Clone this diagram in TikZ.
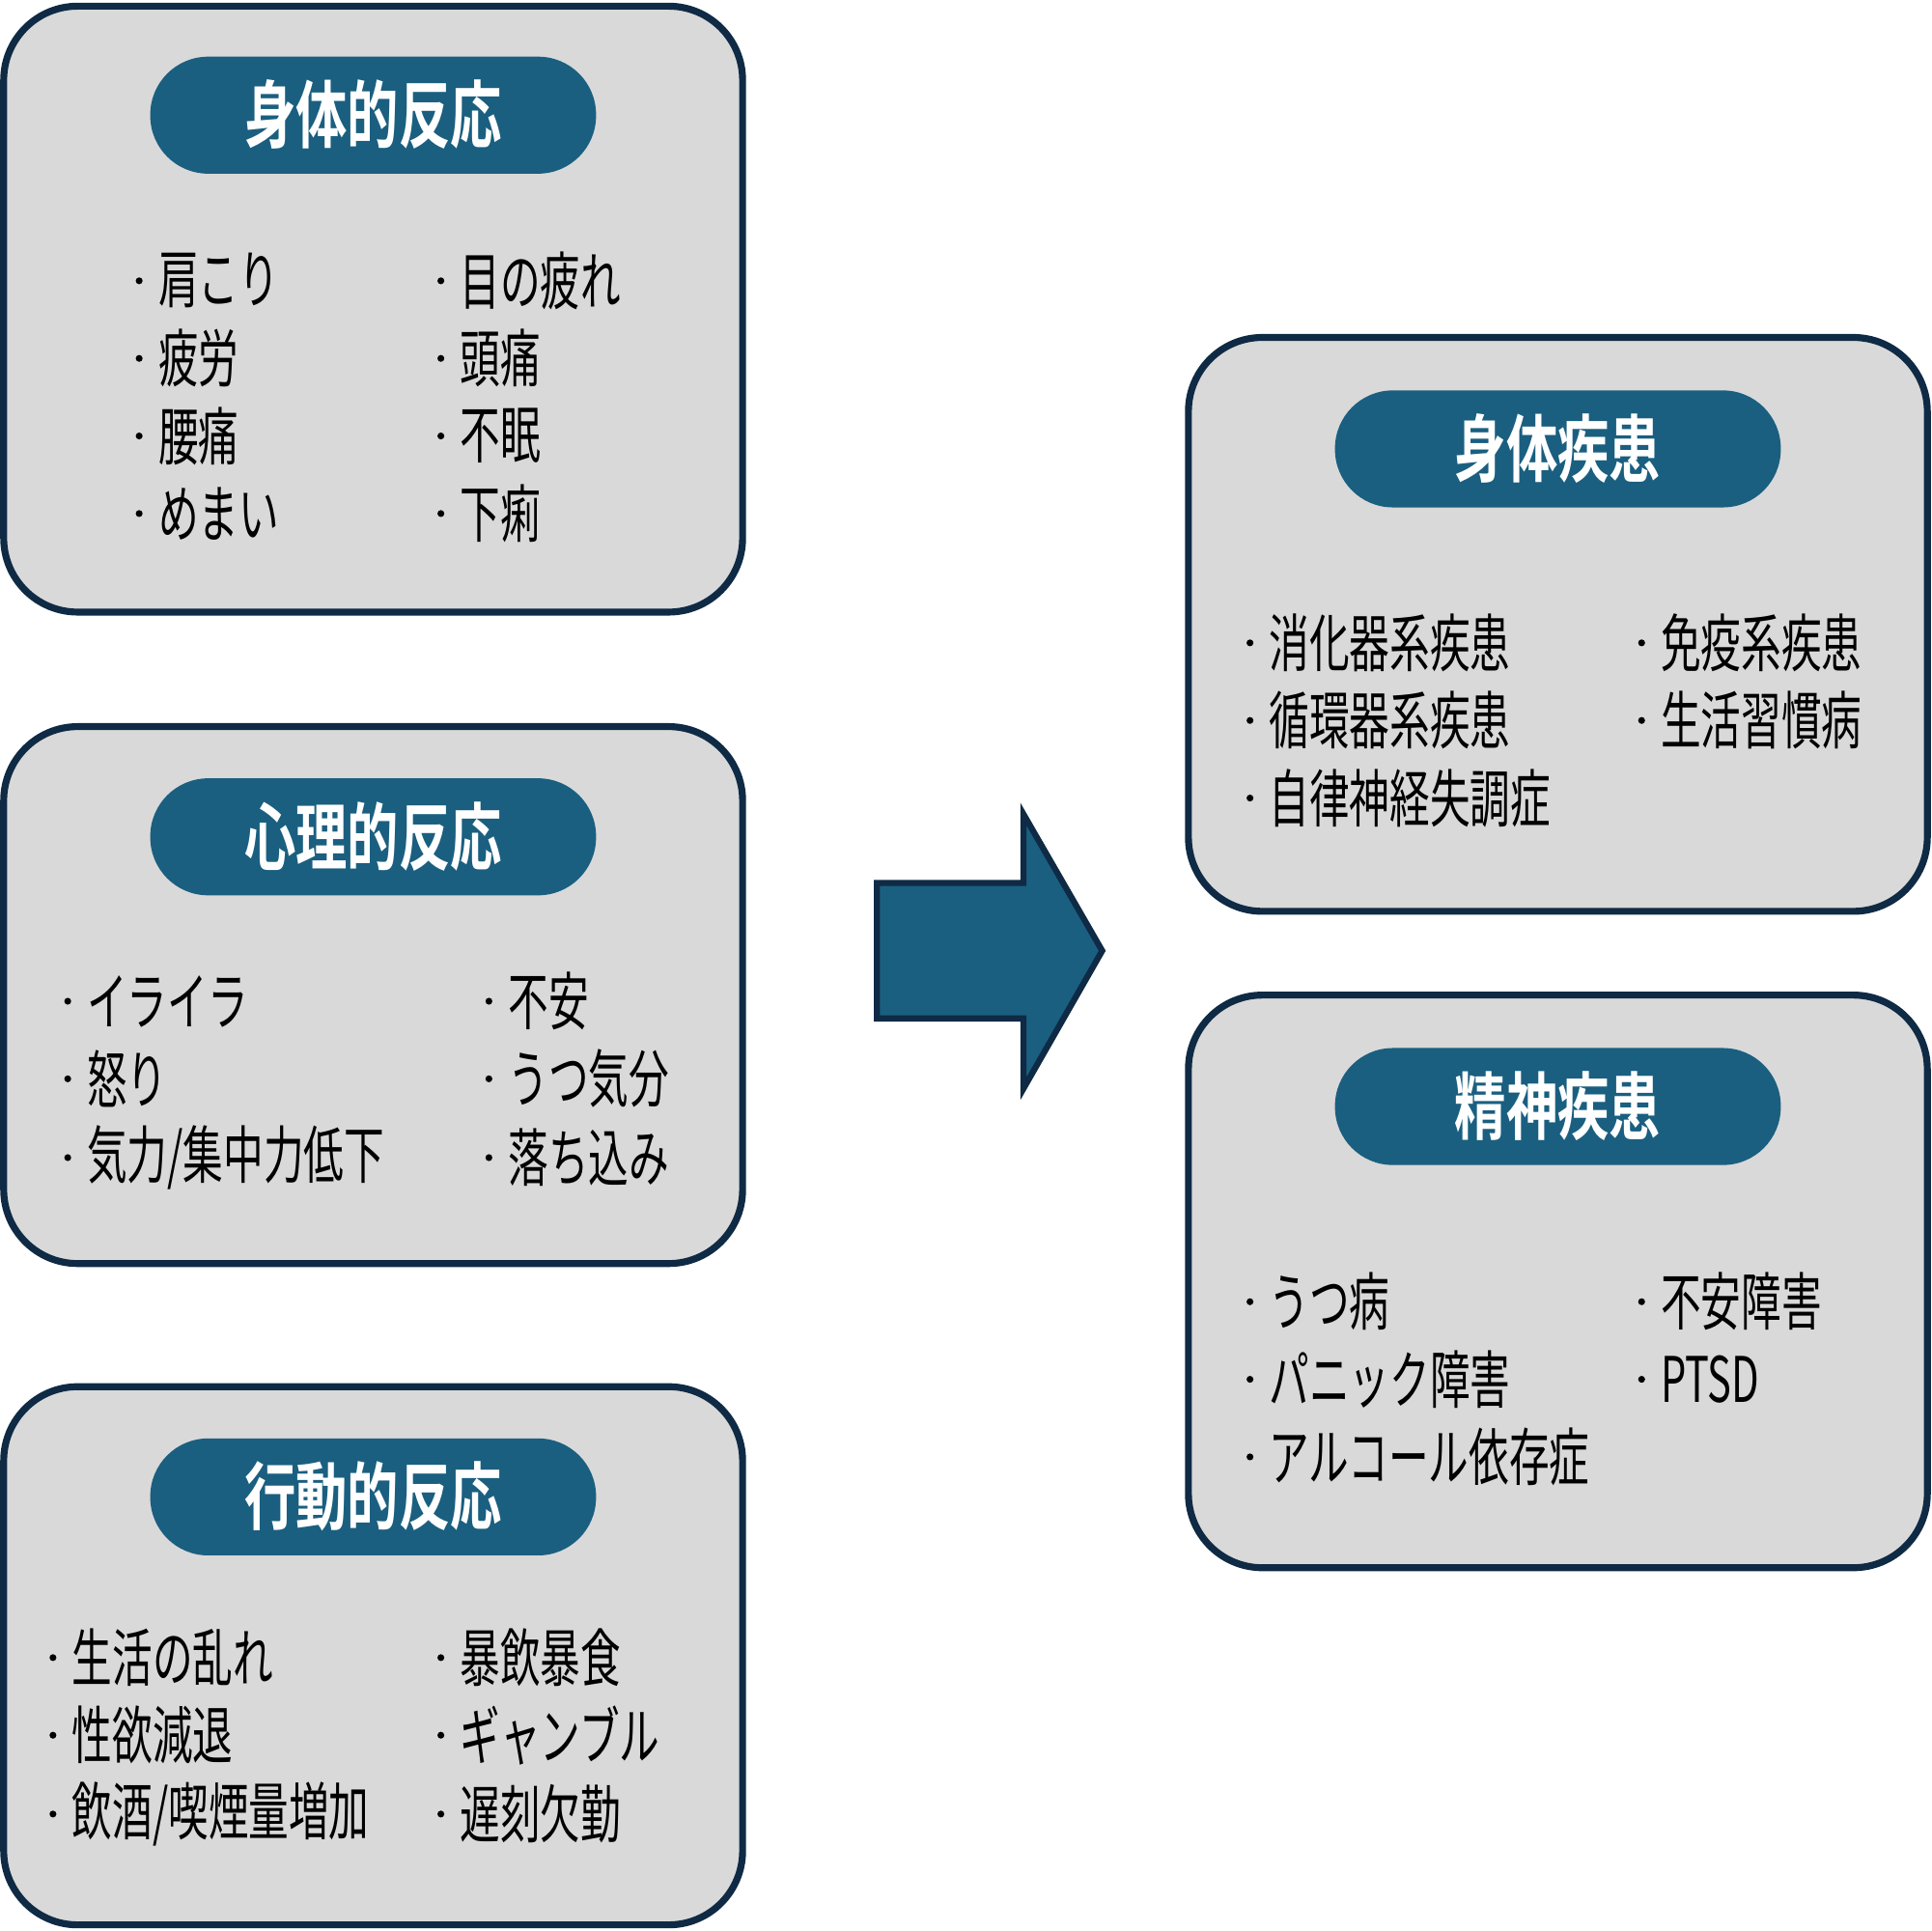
\documentclass[tikz,border=0pt]{standalone}
\usepackage{fontspec}
\newfontfamily\cjk{Noto Sans CJK JP}[BoldFont={Noto Sans CJK JP Bold}]
\usetikzlibrary{positioning}
\definecolor{boxgray}{HTML}{D9D9D9}
\definecolor{navy}{HTML}{0F2A44}
\definecolor{teal}{HTML}{1A5F80}
\tikzset{panel/.style={draw=navy, line width=1.6pt, fill=boxgray, rounded corners=0.6cm}}
\tikzset{entry/.style={anchor=west, inner sep=0pt, font=\cjk\fontsize{14.5}{17}\selectfont}}
\newcommand{\pnl}[4]{% name, x1, y1, x2/y2
  \draw[panel] (#2,#3) rectangle #4;}
\newcommand{\ttl}[4]{% name, x, y1, text
  \fill[teal, rounded corners=0.47cm] (#2-181,#3) rectangle (#2+181,#3+95);
  \node[text=white, font=\cjk\bfseries\fontsize{17}{20}\selectfont] (#1) at (#2,#3+47) {\scalebox{0.7}[1]{#4}};}
\newcommand{\itm}[4]{% name, x, y, text
  \fill (#2,#3) circle (2.8);
  \node[entry] (#1) at (#2+15,#3) {\scalebox{0.64}[1]{#4}};}
\begin{document}
\begin{tikzpicture}[x=0.01cm, y=-0.01cm]
\useasboundingbox (0,0) rectangle (1568,1568);
% left panels
\pnl{p1}{3}{5}{(603,497)}
\pnl{p2}{3}{590}{(603,1026)}
\pnl{p3}{3}{1126}{(603,1563)}
% right panels
\pnl{q1}{965}{274}{(1565,740)}
\pnl{q2}{965}{808}{(1565,1273)}
% titles
\ttl{t1}{303}{46}{身体的反応}
\ttl{t2}{303}{632}{心理的反応}
\ttl{t3}{303}{1168}{行動的反応}
\ttl{u1}{1265}{317}{身体疾患}
\ttl{u2}{1265}{851}{精神疾患}
% items
\foreach \n/\x/\y/\t in {a1/113/228/肩こり, a2/113/291/疲労, a3/113/354/腰痛, a4/113/417/めまい,
  a5/358/228/目の疲れ, a6/358/291/頭痛, a7/358/354/不眠, a8/358/417/下痢,
  b1/55/813/イライラ, b2/55/876/怒り, b3/55/940/{気力/集中力低下},
  b4/397/813/不安, b5/397/876/うつ気分, b6/397/940/落ち込み,
  c1/43/1346/生活の乱れ, c2/43/1409/性欲減退, c3/43/1473/{飲酒/喫煙量増加},
  c4/358/1346/暴飲暴食, c5/358/1409/ギャンブル, c6/358/1473/遅刻欠勤,
  d1/1015/522/消化器系疾患, d2/1015/585/循環器系疾患, d3/1015/648/自律神経失調症,
  d4/1333/522/免疫系疾患, d5/1333/585/生活習慣病,
  e1/1015/1057/うつ病, e2/1015/1120/パニック障害, e3/1015/1183/アルコール依存症,
  e4/1333/1057/不安障害, e5/1333/1120/PTSD}
  {\itm{\n}{\x}{\y}{\t}}
% arrow
\draw[fill=teal, draw=navy, line width=1.4pt] (712,717) -- (831,717) -- (831,661) -- (895,772)
  -- (831,884) -- (831,827) -- (712,827) -- cycle;
\end{tikzpicture}
\end{document}
